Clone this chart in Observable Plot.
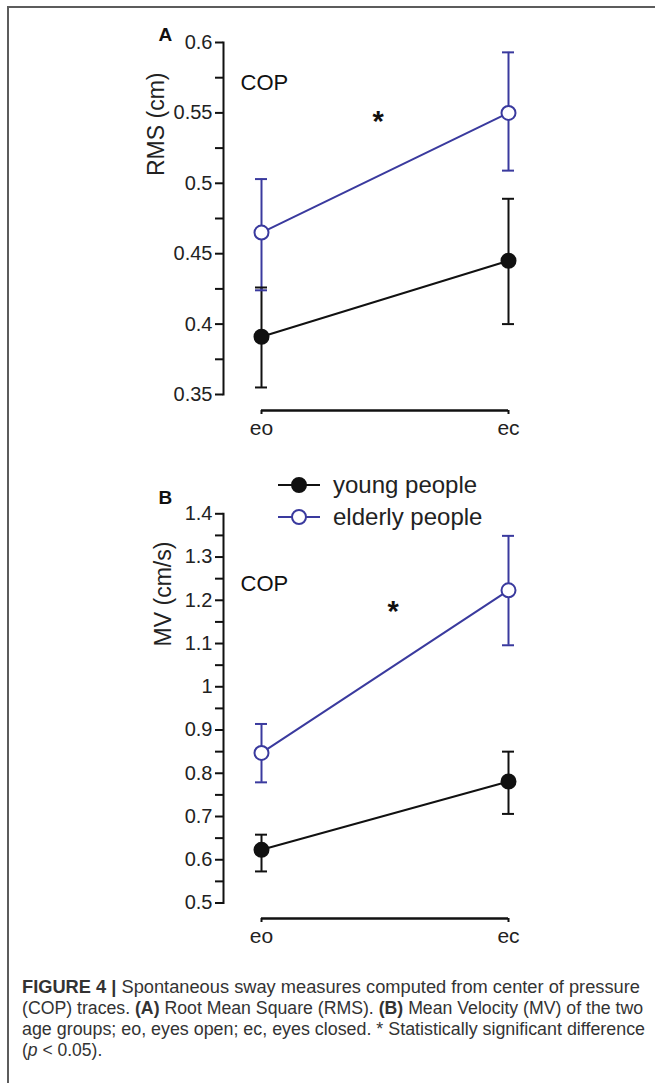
<!DOCTYPE html>
<html><head><meta charset="utf-8">
<script src="https://cdn.jsdelivr.net/npm/d3@7"></script>
<script src="https://cdn.jsdelivr.net/npm/@observablehq/plot@0.6"></script>
<style>
body{margin:0;background:#fff;}
#fig{position:relative;width:655px;height:1083px;overflow:hidden;font-family:"Liberation Sans",Arial,sans-serif;background:#fff;}
#border{position:absolute;left:7px;top:6px;right:-10px;bottom:-10px;border-top:2px solid #5c5c5c;border-left:2px solid #5c5c5c;}
.panel{position:absolute;left:0;}
.cap{position:absolute;left:22px;white-space:nowrap;font-size:17.5px;line-height:21px;color:#333;transform-origin:0 50%;}
#legend{position:absolute;left:0;top:460px;}
</style></head><body><div id="fig"><div id="border"></div></div>
<script>
// ---------- data ----------
const conditions = ["eo", "ec"];
const groups = ["young people", "elderly people"];
const groupColors = ["#111111", "#3a3a9e"];
const groupFills = ["#111111", "#ffffff"];

// Panel A: RMS (cm)
const rmsYoungMean = [0.391, 0.445];
const rmsYoungLow = [0.355, 0.400];
const rmsYoungHigh = [0.426, 0.489];
const rmsElderlyMean = [0.465, 0.550];
const rmsElderlyLow = [0.424, 0.509];
const rmsElderlyHigh = [0.503, 0.593];
const rmsTicks = [0.35, 0.4, 0.45, 0.5, 0.55, 0.6];
const rmsMinorTicks = [0.375, 0.425, 0.475, 0.525, 0.575];

// Panel B: MV (cm/s)
const mvYoungMean = [0.623, 0.781];
const mvYoungLow = [0.573, 0.706];
const mvYoungHigh = [0.658, 0.850];
const mvElderlyMean = [0.847, 1.223];
const mvElderlyLow = [0.779, 1.096];
const mvElderlyHigh = [0.914, 1.349];
const mvTicks = [0.5, 0.6, 0.7, 0.8, 0.9, 1.0, 1.1, 1.2, 1.3, 1.4];
const mvMinorTicks = [0.55, 0.65, 0.75, 0.85, 0.95, 1.05, 1.15, 1.25, 1.35];

const captionLines = [
  '<b>FIGURE 4 |</b> Spontaneous sway measures computed from center of pressure',
  '(COP) traces. <b>(A)</b> Root Mean Square (RMS). <b>(B)</b> Mean Velocity (MV) of the two',
  'age groups; eo, eyes open; ec, eyes closed. * Statistically significant difference',
  '(<i>p</i> &lt; 0.05).'
];
const captionRight = [640, 643, 645, null];

// ---------- build ----------
function makeTable(means, lows, highs) {
  const rows = [];
  groups.forEach((g, gi) => {
    conditions.forEach((c, ci) => {
      rows.push({group: g, cond: c, mean: means[gi][ci], lo: lows[gi][ci], hi: highs[gi][ci],
                 color: groupColors[gi], fill: groupFills[gi]});
    });
  });
  return rows;
}

const fmt = d => String(+d.toFixed(3));
const font = "Liberation Sans, Arial, sans-serif";

function panel(o) {
  const table = makeTable(o.means, o.lows, o.highs);
  return Plot.plot({
    width: 655, height: o.height,
    marginLeft: 223, marginRight: 100, marginTop: o.mt, marginBottom: o.mb,
    x: {type: "point", domain: conditions, range: [261, 508], padding: 0, axis: null},
    y: {domain: o.domain, axis: null, label: null},
    style: {fontFamily: font, color: "#111", background: "transparent", overflow: "visible"},
    marks: [
      Plot.frame({anchor: "left", stroke: "#111", strokeWidth: 2}),
      Plot.axisY(o.ticks, {anchor: "left", tickSize: 8, tickPadding: 3, fontSize: 20, tickFormat: fmt, strokeWidth: 2, label: null, fill: "#222"}),
      Plot.axisY(o.minor, {anchor: "left", tickSize: 8, tickFormat: () => "", strokeWidth: 2, label: null}),
      // x axis baseline with end ticks
      Plot.ruleY([o.domain[0]], {y: d => d, x1: () => conditions[0], x2: () => conditions[conditions.length - 1], dy: o.xdy, stroke: "#111", strokeWidth: 2.5}),
      Plot.ruleX(conditions, {x: d => d, y1: () => o.domain[0], y2: () => o.domain[0], insetBottom: -4, dy: o.xdy, stroke: "#111", strokeWidth: 2}),
      Plot.text(conditions, {x: d => d, y: () => o.domain[0], text: d => d, dy: o.xdy + 18, fontSize: 21, lineAnchor: "middle", fill: "#222"}),
      // series
      Plot.line(table, {x: "cond", y: "mean", z: "group", stroke: "color", strokeWidth: 2}),
      Plot.ruleX(table, {x: "cond", y1: "lo", y2: "hi", stroke: "color", strokeWidth: 2}),
      Plot.ruleY(table, {y: "hi", x1: "cond", x2: "cond", insetLeft: -6, insetRight: -6, stroke: "color", strokeWidth: 2}),
      Plot.ruleY(table, {y: "lo", x1: "cond", x2: "cond", insetLeft: -6, insetRight: -6, stroke: "color", strokeWidth: 2}),
      Plot.dot(table, {x: "cond", y: "mean", r: 7, stroke: "color", fill: "fill", strokeWidth: 2}),
      // annotations
      Plot.text([o.letter], {frameAnchor: "top-left", text: d => d, dx: -65, dy: o.letterDy, fontSize: 19, fontWeight: "bold", lineAnchor: "middle", fill: "#111"}),
      Plot.text(["COP"], {frameAnchor: "top-left", text: d => d, dx: 17, dy: o.copDy, fontSize: 22, textAnchor: "start", lineAnchor: "middle", fill: "#111"}),
      Plot.text(["*"], {frameAnchor: "top-left", text: d => d, dx: o.starDx, dy: o.starDy, fontSize: 29, fontWeight: "bold", lineAnchor: "middle", fill: "#111"}),
      Plot.text([o.title], {frameAnchor: "left", text: d => d, rotate: -90, dx: o.titleDx, dy: o.titleDy, fontSize: 23, lineAnchor: "middle", fill: "#222"})
    ]
  });
}

const fig = document.getElementById("fig");

const A = panel({
  height: 450, mt: 42, mb: 56, domain: [0.35, 0.6], ticks: rmsTicks, minor: rmsMinorTicks,
  means: [rmsYoungMean, rmsElderlyMean], lows: [rmsYoungLow, rmsElderlyLow], highs: [rmsYoungHigh, rmsElderlyHigh],
  xdy: 16, letter: "A", letterDy: -8, copDy: 40, starDx: 149, starDy: 79,
  title: "RMS (cm)", titleDx: -67, titleDy: -42.5
});
A.classList.add("panel"); A.style.top = "0px";
fig.appendChild(A);

const B = panel({
  height: 490, mt: 53.3, mb: 47.5, domain: [0.5, 1.4], ticks: mvTicks, minor: mvMinorTicks,
  means: [mvYoungMean, mvElderlyMean], lows: [mvYoungLow, mvElderlyLow], highs: [mvYoungHigh, mvElderlyHigh],
  xdy: 15.5, letter: "B", letterDy: -16.3, copDy: 70, starDx: 164, starDy: 97.7,
  title: "MV (cm/s)", titleDx: -60, titleDy: -62
});
B.classList.add("panel"); B.style.top = "460px";
fig.appendChild(B);

// legend
const leg = d3.select(fig).append("svg").attr("id", "legend").attr("width", 655).attr("height", 80);
groups.forEach((g, i) => {
  const cy = 25 + i * 32;
  const row = leg.append("g");
  row.append("line").attr("x1", 278).attr("x2", 320).attr("y1", cy).attr("y2", cy)
    .attr("stroke", groupColors[i]).attr("stroke-width", 2);
  row.append("circle").attr("cx", 299).attr("cy", cy).attr("r", 7)
    .attr("stroke", groupColors[i]).attr("stroke-width", 2).attr("fill", groupFills[i]);
  row.append("text").attr("x", 333).attr("y", cy + 8).attr("font-size", 24)
    .attr("font-family", font).attr("fill", "#222").text(g);
});

// caption
captionLines.forEach((html, i) => {
  const d = document.createElement("div");
  d.className = "cap";
  d.innerHTML = html;
  d.style.top = (976.5 + i * 21) + "px";
  fig.appendChild(d);
  if (captionRight[i]) {
    const w = d.getBoundingClientRect().width;
    d.style.transform = `scaleX(${(captionRight[i] - 22) / w})`;
  }
});
</script>
</body></html>
